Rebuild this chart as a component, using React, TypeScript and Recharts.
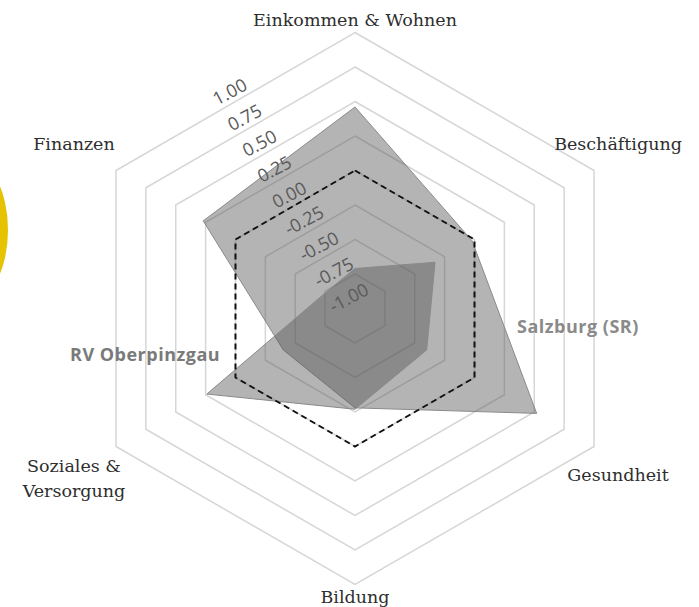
import React from "react";
import { RadarChart, Radar, PolarGrid, PolarAngleAxis, PolarRadiusAxis } from "recharts";

const CATEGORIES = [
  "Einkommen & Wohnen",
  "Beschäftigung",
  "Gesundheit",
  "Bildung",
  "Soziales & Versorgung",
  "Finanzen",
];
const SALZBURG_SR = [0.46, -0.02, 0.52, -0.28, -0.4, 0.27];
const RV_OBERPINZGAU = [-0.71, -0.33, -0.4, -0.27, 0.24, -0.76];
const REFERENCE = [0, 0, 0, 0, 0, 0];
const RADIUS_TICKS = [-1, -0.75, -0.5, -0.25, 0, 0.25, 0.5, 0.75, 1];

const W = 699;
const H = 607;
const CX = 355;
const CY = 308.5;
const R = 276;

const data = CATEGORIES.map((name, i) => ({
  name,
  salzburg: SALZBURG_SR[i],
  oberpinzgau: RV_OBERPINZGAU[i],
  ref: REFERENCE[i],
}));

const serif = "'DejaVu Serif', serif";
const sans = "'Open Sans', 'Liberation Sans', sans-serif";

// category labels sit outside the hexagon corners
function AngleTick(props: any) {
  const { x, y, payload } = props;
  const dx = x - CX;
  const dy = y - CY;
  const len = Math.hypot(dx, dy) || 1;
  const vx = CX + (dx / len) * R;
  const vy = CY + (dy / len) * R;
  let tx = vx;
  let ty = vy;
  if (Math.abs(dx) < 1) {
    ty = dy < 0 ? vy - 7 : vy + 18;
  } else {
    tx = dx > 0 ? vx + 24 : vx - 42;
    ty = dy < 0 ? vy - 21 : vy + 34;
  }
  const words = String(payload.value);
  const lines = words === "Soziales & Versorgung" ? ["Soziales &", "Versorgung"] : [words];
  return (
    <text
      x={tx}
      y={ty}
      textAnchor="middle"
      fontFamily={serif}
      fontSize={17.5}
      fill="#2e2e2e"
    >
      {lines.map((l, i) => (
        <tspan key={i} x={tx} dy={i === 0 ? (lines.length > 1 ? -9 : 0) : 25}>
          {l}
        </tspan>
      ))}
    </text>
  );
}

// radius labels run along the 120° spoke, slightly compressed toward the centre
function RadiusTick(props: any) {
  const { x, y, payload } = props;
  const r = Math.hypot(x - CX, y - CY);
  const rl = 13 + 0.862 * r;
  const px = CX - 0.5 * rl;
  const py = CY - 0.866 * rl;
  return (
    <text
      x={px}
      y={py}
      textAnchor="middle"
      dominantBaseline="central"
      fontFamily={sans}
      fontSize={18}
      fill="#5a5a5a"
      transform={`rotate(-28 ${px} ${py})`}
    >
      {Number(payload.value).toFixed(2)}
    </text>
  );
}

export default function App() {
  return (
    <div style={{ position: "absolute", left: 0, top: 0, width: W, height: H, background: "#fff", overflow: "hidden" }}>
      <div
        style={{
          position: "absolute",
          left: -72,
          top: 157,
          width: 80,
          height: 146,
          borderRadius: "50%",
          background: "#e6c300",
        }}
      />
      <RadarChart
        width={W}
        height={H}
        data={data}
        cx={CX}
        cy={CY}
        outerRadius={R}
        margin={{ top: 0, right: 0, bottom: 0, left: 0 }}
        style={{ position: "absolute", left: 0, top: 0 }}
      >
        <PolarGrid gridType="polygon" radialLines={false} stroke="#d6d6d6" strokeWidth={1.5} />
        <PolarAngleAxis dataKey="name" tick={<AngleTick />} tickLine={false} axisLine={false} />
        <PolarRadiusAxis
          angle={120}
          domain={[-1, 1]}
          ticks={RADIUS_TICKS as any}
          tickCount={9}
          tick={<RadiusTick />}
          axisLine={false}
          tickLine={false}
        />
        <Radar
          dataKey="salzburg"
          name="Salzburg (SR)"
          stroke="#8a8a8a"
          strokeWidth={1}
          fill="#555555"
          fillOpacity={0.44}
          isAnimationActive={false}
        />
        <Radar
          dataKey="oberpinzgau"
          name="RV Oberpinzgau"
          stroke="#8a8a8a"
          strokeWidth={1}
          fill="#555555"
          fillOpacity={0.44}
          isAnimationActive={false}
        />
        <Radar
          dataKey="ref"
          stroke="#111"
          strokeWidth={2}
          strokeDasharray="6 4"
          fill="none"
          fillOpacity={0}
          isAnimationActive={false}
        />
      </RadarChart>
      <div
        style={{
          position: "absolute",
          left: 517,
          top: 314,
          fontFamily: sans,
          fontWeight: 700,
          fontSize: 18,
          letterSpacing: 0.5,
          color: "#8a8a8a",
          whiteSpace: "nowrap",
        }}
      >
        Salzburg (SR)
      </div>
      <div
        style={{
          position: "absolute",
          left: 70,
          top: 342,
          fontFamily: sans,
          fontWeight: 700,
          fontSize: 18,
          letterSpacing: 0.5,
          color: "#7a7a7a",
          whiteSpace: "nowrap",
        }}
      >
        RV Oberpinzgau
      </div>
    </div>
  );
}
